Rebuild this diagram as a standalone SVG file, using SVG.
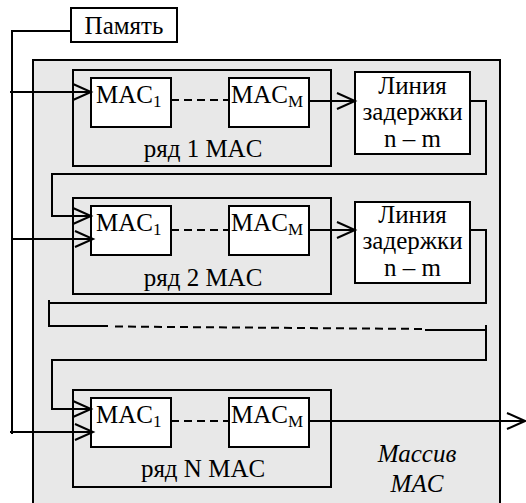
<svg xmlns="http://www.w3.org/2000/svg" width="526" height="503" viewBox="0 0 526 503" font-family="Liberation Serif, serif">
<defs>
<style>
.t{font-family:"Liberation Serif","Times New Roman",serif;font-size:25px;fill:#000}
.s{font-size:17px}
.it{font-style:italic}
.box{fill:#fff;stroke:#000;stroke-width:2}
.row{fill:#e8e8e8;stroke:#000;stroke-width:2}
.ln{fill:none;stroke:#000;stroke-width:2}
.dash{fill:none;stroke:#000;stroke-width:2;stroke-dasharray:8 5}
.arr{marker-end:url(#ah)}
</style>
<marker id="ah" markerUnits="userSpaceOnUse" markerWidth="22" markerHeight="20" refX="19" refY="9" orient="auto">
<path d="M1,1 L19,9 L1,17" fill="none" stroke="#000" stroke-width="2"/>
</marker>
</defs>
<rect width="526" height="503" fill="#fff"/>
<g id="array">
<rect x="33" y="60" width="467" height="460" fill="#e8e8e8" stroke="#000" stroke-width="2"/>
<text class="t it" x="417" y="462" text-anchor="middle">Массив</text>
<text class="t it" x="417" y="492" text-anchor="middle">MAC</text>
</g>
<g id="memory">
<rect class="box" x="71" y="8" width="106" height="34"/>
<text class="t" x="124" y="34" text-anchor="middle">Память</text>
</g>
<g id="row1">
<rect class="row" x="73" y="70" width="258" height="96"/>
<text class="t" x="203" y="157" text-anchor="middle">ряд 1 MAC</text>
</g>
<g id="row1-mac1">
<rect class="box" x="91" y="78" width="80" height="49"/>
<text class="t" x="96" y="103">MAC<tspan class="s" dy="4">1</tspan></text>
</g>
<g id="row1-macm">
<rect class="box" x="229" y="78" width="80" height="49"/>
<text class="t" x="231" y="103">MAC<tspan class="s" dy="4">M</tspan></text>
</g>
<g id="row1-delay">
<rect class="box" x="355" y="72" width="115" height="82"/>
<text class="t" x="412.5" y="94" text-anchor="middle">Линия</text>
<text class="t" x="412.5" y="120" text-anchor="middle">задержки</text>
<text class="t" x="412.5" y="147" text-anchor="middle">n – m</text>
</g>
<g id="row2">
<rect class="row" x="73" y="198" width="258" height="96"/>
<text class="t" x="203" y="286" text-anchor="middle">ряд 2 MAC</text>
</g>
<g id="row2-mac1">
<rect class="box" x="91" y="206" width="80" height="49"/>
<text class="t" x="96" y="231">MAC<tspan class="s" dy="4">1</tspan></text>
</g>
<g id="row2-macm">
<rect class="box" x="229" y="206" width="80" height="49"/>
<text class="t" x="231" y="231">MAC<tspan class="s" dy="4">M</tspan></text>
</g>
<g id="row2-delay">
<rect class="box" x="355" y="202" width="115" height="81"/>
<text class="t" x="412.5" y="223" text-anchor="middle">Линия</text>
<text class="t" x="412.5" y="249" text-anchor="middle">задержки</text>
<text class="t" x="412.5" y="276" text-anchor="middle">n – m</text>
</g>
<g id="rowN">
<rect class="row" x="73" y="390" width="258" height="97"/>
<text class="t" x="203" y="477" text-anchor="middle">ряд N MAC</text>
</g>
<g id="rowN-mac1">
<rect class="box" x="91" y="398" width="80" height="49"/>
<text class="t" x="96" y="423">MAC<tspan class="s" dy="4">1</tspan></text>
</g>
<g id="rowN-macm">
<rect class="box" x="229" y="398" width="80" height="49"/>
<text class="t" x="231" y="423">MAC<tspan class="s" dy="4">M</tspan></text>
</g>
<g id="connectors">
<polyline class="ln" points="71,31 12,31 12,434"/>
<line class="ln arr" x1="10" y1="92" x2="91" y2="92"/>
<line class="ln arr" x1="12" y1="239" x2="93" y2="239"/>
<line class="ln arr" x1="10" y1="432" x2="93" y2="432"/>
<line class="dash" x1="171" y1="100" x2="229" y2="100"/>
<line class="dash" x1="171" y1="230" x2="229" y2="230"/>
<line class="dash" x1="171" y1="421" x2="229" y2="421"/>
<line class="ln arr" x1="309" y1="101" x2="355" y2="101"/>
<line class="ln arr" x1="309" y1="230" x2="355" y2="230"/>
<polyline class="ln arr" points="470,101 486,101 486,174 52,174 52,216 91,216"/>
<polyline class="ln" points="470,230 486,230 486,303 50,303"/>
<polyline class="ln" points="49,300 49,326 108,326"/>
<line class="dash" x1="115" y1="326.5" x2="425" y2="329"/>
<polyline class="ln" points="425,330 486,330"/>
<polyline class="ln arr" points="486,325 486,360 52,360 52,409 91,409"/>
<line class="ln arr" x1="309" y1="421" x2="525" y2="421"/>
</g>
</svg>
